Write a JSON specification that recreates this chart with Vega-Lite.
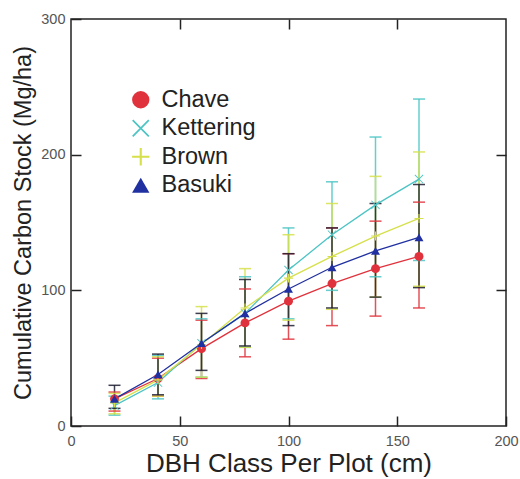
{
  "$schema": "https://vega.github.io/schema/vega-lite/v6.json",
  "width": 435,
  "height": 407,
  "autosize": "none",
  "padding": {"left": 71, "top": 19, "right": 14, "bottom": 53},
  "background": "white",
  "config": {
    "font": "Liberation Sans",
    "view": {"stroke": "#222", "strokeWidth": 1.5},
    "axis": {
      "grid": false,
      "domain": false,
      "tickColor": "#222",
      "tickWidth": 1.5,
      "tickSize": -10,
      "labelFont": "Liberation Sans",
      "labelFontSize": 14.5,
      "labelColor": "#555",
      "titleFont": "Liberation Sans",
      "titleFontWeight": "normal",
      "titleColor": "#222"
    }
  },
  "data": {
    "values": [
      {"series": "Chave", "dbh": 20, "c": 20, "lo": 11, "hi": 25},
      {"series": "Chave", "dbh": 40, "c": 35, "lo": 22, "hi": 50},
      {"series": "Chave", "dbh": 60, "c": 57, "lo": 35, "hi": 78},
      {"series": "Chave", "dbh": 80, "c": 76, "lo": 51, "hi": 101},
      {"series": "Chave", "dbh": 100, "c": 92, "lo": 64, "hi": 127},
      {"series": "Chave", "dbh": 120, "c": 105, "lo": 74, "hi": 146},
      {"series": "Chave", "dbh": 140, "c": 116, "lo": 81, "hi": 151},
      {"series": "Chave", "dbh": 160, "c": 125, "lo": 87, "hi": 165},
      {"series": "Kettering", "dbh": 20, "c": 15, "lo": 8, "hi": 22},
      {"series": "Kettering", "dbh": 40, "c": 32, "lo": 20, "hi": 52},
      {"series": "Kettering", "dbh": 60, "c": 61, "lo": 36, "hi": 79},
      {"series": "Kettering", "dbh": 80, "c": 83, "lo": 58, "hi": 110},
      {"series": "Kettering", "dbh": 100, "c": 115, "lo": 79, "hi": 146},
      {"series": "Kettering", "dbh": 120, "c": 141, "lo": 100, "hi": 180},
      {"series": "Kettering", "dbh": 140, "c": 163, "lo": 110, "hi": 213},
      {"series": "Kettering", "dbh": 160, "c": 182, "lo": 122, "hi": 241},
      {"series": "Brown", "dbh": 20, "c": 17, "lo": 9, "hi": 24},
      {"series": "Brown", "dbh": 40, "c": 34, "lo": 22, "hi": 51},
      {"series": "Brown", "dbh": 60, "c": 60, "lo": 36, "hi": 88},
      {"series": "Brown", "dbh": 80, "c": 87, "lo": 58, "hi": 116},
      {"series": "Brown", "dbh": 100, "c": 109, "lo": 78, "hi": 141},
      {"series": "Brown", "dbh": 120, "c": 125, "lo": 86, "hi": 164},
      {"series": "Brown", "dbh": 140, "c": 140, "lo": 95, "hi": 184},
      {"series": "Brown", "dbh": 160, "c": 153, "lo": 103, "hi": 202},
      {"series": "Basuki", "dbh": 20, "c": 20, "lo": 13, "hi": 30},
      {"series": "Basuki", "dbh": 40, "c": 38, "lo": 23, "hi": 53},
      {"series": "Basuki", "dbh": 60, "c": 61, "lo": 41, "hi": 83},
      {"series": "Basuki", "dbh": 80, "c": 83, "lo": 59, "hi": 108},
      {"series": "Basuki", "dbh": 100, "c": 101, "lo": 74, "hi": 127},
      {"series": "Basuki", "dbh": 120, "c": 117, "lo": 87, "hi": 146},
      {"series": "Basuki", "dbh": 140, "c": 129, "lo": 95, "hi": 164},
      {"series": "Basuki", "dbh": 160, "c": 139, "lo": 102, "hi": 178}
    ]
  },
  "layer": [
    {
      "mark": {"type": "bar", "size": 1.5, "opacity": 0.85},
      "encoding": {
        "x": {"field": "dbh", "type": "quantitative", "scale": {"domain": [0, 200], "nice": false, "padding": 0},
              "axis": {"values": [0, 50, 100, 150, 200], "title": "DBH Class Per Plot (cm)", "titleFontSize": 26, "titlePadding": 3, "labelPadding": 18, "labelFlush": false}},
        "y": {"field": "lo", "type": "quantitative", "scale": {"domain": [0, 300], "nice": false},
              "axis": {"values": [0, 100, 200, 300], "title": "Cumulative Carbon Stock (Mg/ha)", "titleFontSize": 23.5, "titlePadding": 5, "labelPadding": 16, "labelFlush": false}},
        "y2": {"field": "hi"},
        "fill": {"field": "series", "type": "nominal", "legend": null,
                 "scale": {"domain": ["Kettering", "Chave", "Basuki", "Brown"], "range": ["#4cc4c4", "#e0323c", "#1c1c30", "#d6e04a"]}}
      }
    },
    {
      "mark": {"type": "tick", "orient": "horizontal", "size": 12, "thickness": 1.5, "opacity": 0.85},
      "encoding": {
        "x": {"field": "dbh", "type": "quantitative", "axis": null},
        "y": {"field": "lo", "type": "quantitative", "axis": null},
        "fill": {"field": "series", "type": "nominal", "legend": null}
      }
    },
    {
      "mark": {"type": "tick", "orient": "horizontal", "size": 12, "thickness": 1.5, "opacity": 0.85},
      "encoding": {
        "x": {"field": "dbh", "type": "quantitative", "axis": null},
        "y": {"field": "hi", "type": "quantitative", "axis": null},
        "fill": {"field": "series", "type": "nominal", "legend": null}
      }
    },
    {
      "mark": {"type": "line", "strokeWidth": 1.3},
      "encoding": {
        "x": {"field": "dbh", "type": "quantitative", "axis": null},
        "y": {"field": "c", "type": "quantitative", "axis": null},
        "stroke": {"field": "series", "type": "nominal", "legend": null,
                   "scale": {"domain": ["Basuki", "Brown", "Kettering", "Chave"], "range": ["#2030a0", "#d6e04a", "#4cc4c4", "#e0323c"]}}
      }
    },
    {
      "mark": {"type": "point", "filled": true, "size": 80, "opacity": 1},
      "encoding": {
        "x": {"field": "dbh", "type": "quantitative", "axis": null},
        "y": {"field": "c", "type": "quantitative", "axis": null},
        "color": {"field": "series", "type": "nominal",
                  "scale": {"domain": ["Chave", "Kettering", "Brown", "Basuki"], "range": ["#e0323c", "#4cc4c4", "#d6e04a", "#2030a0"]},
                  "legend": {"orient": "none", "legendX": 58, "legendY": 69, "title": null, "labelFontSize": 23.5, "labelColor": "#222", "symbolSize": 300, "symbolStrokeWidth": 0, "rowPadding": 3.5, "labelOffset": 9, "symbolOpacity": 1}},
        "shape": {"field": "series", "type": "nominal",
                  "scale": {"domain": ["Chave", "Kettering", "Brown", "Basuki"],
                            "range": ["circle", "M-0.86,-1L1,0.86L0.86,1L-1,-0.86ZM0.86,-1L1,-0.86L-0.86,1L-1,0.86Z", "M-1,-0.12L1,-0.12L1,0.12L-1,0.12ZM0.12,-1L0.12,1L-0.12,1L-0.12,-1Z", "triangle-up"]},
                  "legend": {"orient": "none", "legendX": 58, "legendY": 69, "title": null, "labelFontSize": 23.5, "labelColor": "#222", "symbolSize": 300, "symbolStrokeWidth": 0, "rowPadding": 3.5, "labelOffset": 9, "symbolOpacity": 1}}
      }
    },
    {
      "mark": {"type": "point", "opacity": 0},
      "encoding": {
        "x": {"field": "dbh", "type": "quantitative", "axis": {"orient": "top", "values": [50, 100, 150], "labels": false, "title": null}},
        "y": {"field": "c", "type": "quantitative", "axis": {"orient": "right", "values": [100, 200], "labels": false, "title": null}}
      }
    }
  ],
  "resolve": {"axis": {"x": "independent", "y": "independent"}}
}
